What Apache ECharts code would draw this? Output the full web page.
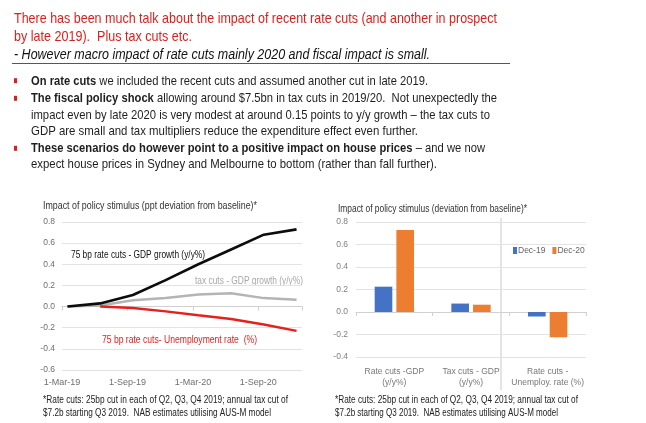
<!DOCTYPE html>
<html>
<head>
<meta charset="utf-8">
<script src="https://cdn.jsdelivr.net/npm/echarts@6/dist/echarts.min.js"></script>
<style>
html,body{margin:0;padding:0;background:#fff;}
#chart{width:646px;height:423px;}
</style>
</head>
<body>
<div id="chart"></div>
<script>
// ---------- DATA ----------
const quarters = ['2019-03','2019-06','2019-09','2019-12','2020-03','2020-06','2020-09','2020-12'];
const gdpRateCuts = [0.00, 0.03, 0.11, 0.25, 0.40, 0.54, 0.68, 0.73];
const gdpTaxCuts = [0.00, 0.01, 0.06, 0.08, 0.115, 0.125, 0.08, 0.065];
const unempRateCuts = [null, 0.00, -0.013, -0.045, -0.082, -0.118, -0.17, -0.23];
const dateTickLabels = ['1-Mar-19','1-Sep-19','1-Mar-20','1-Sep-20'];

const barCategories = ['Rate cuts -GDP\n(y/y%)', 'Tax cuts - GDP\n(y/y%)', 'Rate cuts -\nUnemploy. rate (%)'];
const barSeriesNames = ['Dec-19', 'Dec-20'];
const dec19 = [0.225, 0.075, -0.04];
const dec20 = [0.73, 0.065, -0.225];

// ---------- helpers ----------
const SLIDE_FONT = "'Liberation Sans', Arial, sans-serif";
const CHART_FONT = "'Liberation Sans', Arial, sans-serif";
// months since Mar-19, centred in the month (Excel date axis "between tick marks")
function monthPos(q){ const p=q.split('-').map(Number); return (p[0]-2019)*12 + (p[1]-3) + 0.5; }
function pairs(vals){ return quarters.map((q,i)=>[monthPos(q), vals[i]]); }

const mctx = document.createElement('canvas').getContext('2d');
function measure(str, size, family, weight, style){
  mctx.font = (style||'normal') + ' ' + (weight||'normal') + ' ' + size + 'px ' + family;
  return mctx.measureText(str).width;
}
function fitText(str, x, y, w, size, family, color, opt){
  opt = opt || {};
  const sw = measure(str, size, family, opt.weight, opt.style);
  return {type:'text', x:x, y:y, scaleX: w/sw, silent:true,
    style:{text:str, fontSize:size, fontFamily:family, fontWeight:opt.weight||'normal',
      fontStyle:opt.style||'normal', fill:color, align:'left', verticalAlign:'middle'}};
}
function fitRich(parts, x, y, w, size, family, color){
  let total = 0, txt = '';
  parts.forEach(p=>{
    total += measure(p[0], size, family, p[1]?'bold':'normal');
    txt += p[1] ? '{b|' + p[0] + '}' : p[0];
  });
  return {type:'text', x:x, y:y, scaleX: w/total, silent:true,
    style:{text:txt, fontSize:size, fontFamily:family, fill:color, align:'left', verticalAlign:'middle',
      rich:{b:{fontWeight:'bold', fontSize:size, fontFamily:family, fill:color}}}};
}

const RED = '#dc1f1c';
const TXT = '#1e1e1e';
const graphics = [
  fitText('There has been much talk about the impact of recent rate cuts (and another in prospect', 14, 18.5, 483, 14.5, SLIDE_FONT, RED),
  fitText('by late 2019).  Plus tax cuts etc.', 14, 36.5, 178, 14.5, SLIDE_FONT, RED),
  fitText('- However macro impact of rate cuts mainly 2020 and fiscal impact is small.', 14, 54.5, 416, 14.5, SLIDE_FONT, '#111', {style:'italic'}),
  {type:'line', silent:true, shape:{x1:12,y1:63.5,x2:510,y2:63.5}, style:{stroke:RED, lineWidth:1.2}},
  {type:'rect', silent:true, shape:{x:14,y:78.2,width:3,height:5}, style:{fill:RED}},
  {type:'rect', silent:true, shape:{x:14,y:95.8,width:3,height:5}, style:{fill:RED}},
  {type:'rect', silent:true, shape:{x:14,y:145.8,width:3,height:5}, style:{fill:RED}},
  fitRich([['On rate cuts',1],[' we included the recent cuts and assumed another cut in late 2019.',0]], 31, 81, 397, 13.5, SLIDE_FONT, TXT),
  fitRich([['The fiscal policy shock',1],[' allowing around $7.5bn in tax cuts in 2019/20.  Not unexpectedly the',0]], 31, 98.5, 466, 13.5, SLIDE_FONT, TXT),
  fitText('impact even by late 2020 is very modest at around 0.15 points to y/y growth \u2013 the tax cuts to', 31, 115, 459, 13.5, SLIDE_FONT, TXT),
  fitText('GDP are small and tax multipliers reduce the expenditure effect even further.', 31, 131, 387, 13.5, SLIDE_FONT, TXT),
  fitRich([['These scenarios do however point to a positive impact on house prices',1],[' \u2013 and we now',0]], 31, 148.5, 454, 13.5, SLIDE_FONT, TXT),
  fitText('expect house prices in Sydney and Melbourne to bottom (rather than fall further).', 31, 164.5, 406, 13.5, SLIDE_FONT, TXT),

  // left chart texts
  fitText('Impact of policy stimulus (ppt deviation from baseline)*', 43, 206, 214, 10, CHART_FONT, '#333'),
  fitText('75 bp rate cuts - GDP growth (y/y%)', 71, 255, 134, 10.5, CHART_FONT, '#111'),
  fitText('tax cuts - GDP growth (y/y%)', 195, 281.5, 108, 10.5, CHART_FONT, '#a8a8a8'),
  fitText('75 bp rate cuts- Unemployment rate  (%)', 102, 340.5, 155, 10.5, CHART_FONT, '#e02222'),
  fitText('*Rate cuts: 25bp cut in each of Q2, Q3, Q4 2019; annual tax cut of', 43, 400.5, 245, 10, CHART_FONT, '#222'),
  fitText('$7.2b starting Q3 2019.  NAB estimates utilising AUS-M model', 43, 413, 228, 10, CHART_FONT, '#222'),

  // right chart texts
  fitText('Impact of policy stimulus (deviation from baseline)*', 338, 209, 189, 10, CHART_FONT, '#333'),
  {type:'line', silent:true, shape:{x1:501,y1:218,x2:501,y2:390}, style:{stroke:'#c8c8c8', lineWidth:1}},
  fitText('*Rate cuts: 25bp cut in each of Q2, Q3, Q4 2019; annual tax cut of', 335, 400.5, 243, 10, CHART_FONT, '#222'),
  fitText('$7.2b starting Q3 2019.  NAB estimates utilising AUS-M model', 335, 413, 223, 10, CHART_FONT, '#222')
];

const GRID_COL = '#e3e3e3';
const AXIS_COL = '#d0d0d0';
const LBL_COL = '#6e6e6e';

const option = {
  animation:false,
  backgroundColor:'#fff',
  grid:[
    {left:62, top:222, width:240, height:148, containLabel:false},
    {left:356, top:222, width:230, height:135, containLabel:false}
  ],
  legend:{
    data:barSeriesNames, left:508, top:241, icon:'rect', itemWidth:4, itemHeight:7, itemGap:7,
    textStyle:{fontSize:8.5, fontFamily:CHART_FONT, color:'#666', padding:[0,0,0,-4]}
  },
  xAxis:[
    {type:'value', gridIndex:0, min:0, max:22, interval:6, position:'bottom',
      axisLine:{show:false, onZero:false}, axisTick:{show:false}, splitLine:{show:false},
      axisLabel:{margin:8, fontSize:9, fontFamily:CHART_FONT, color:LBL_COL,
        formatter:v=> (v%6===0 ? (dateTickLabels[v/6]||'') : '')}},
    {type:'value', gridIndex:0, min:0, max:22, interval:6, position:'top',
      axisLine:{show:true, onZero:true, lineStyle:{color:AXIS_COL, width:1}},
      axisTick:{show:true, inside:true, length:4, lineStyle:{color:AXIS_COL}},
      axisLabel:{show:false}, splitLine:{show:false}},
    {type:'category', gridIndex:1, data:barCategories, position:'bottom',
      axisLine:{show:false, onZero:false}, axisTick:{show:false},
      axisLabel:{margin:9, fontSize:8.5, lineHeight:11.3, fontFamily:CHART_FONT, color:'#777', interval:0}},
    {type:'category', gridIndex:1, data:barCategories, position:'top',
      axisLine:{show:true, onZero:true, lineStyle:{color:AXIS_COL, width:1}},
      axisTick:{show:true, inside:true, length:4, interval:0, lineStyle:{color:AXIS_COL}},
      axisLabel:{show:false}}
  ],
  yAxis:[
    {type:'value', gridIndex:0, min:-0.6, max:0.8, interval:0.2,
      axisLine:{show:false}, axisTick:{show:false},
      splitLine:{show:true, lineStyle:{color:GRID_COL, width:1}},
      axisLabel:{margin:7, fontSize:8.5, fontFamily:CHART_FONT, color:LBL_COL, formatter:v=>v.toFixed(1)}},
    {type:'value', gridIndex:1, min:-0.4, max:0.8, interval:0.2,
      axisLine:{show:false}, axisTick:{show:false},
      splitLine:{show:true, lineStyle:{color:GRID_COL, width:1}},
      axisLabel:{margin:8, fontSize:8.5, fontFamily:CHART_FONT, color:'#808080', formatter:v=>v.toFixed(1)}}
  ],
  series:[
    {name:'tax cuts - GDP growth (y/y%)', type:'line', xAxisIndex:0, yAxisIndex:0, data:pairs(gdpTaxCuts),
      showSymbol:false, lineStyle:{color:'#b4b4b4', width:2.5}, z:3},
    {name:'75 bp rate cuts - GDP growth (y/y%)', type:'line', xAxisIndex:0, yAxisIndex:0, data:pairs(gdpRateCuts),
      showSymbol:false, lineStyle:{color:'#0c0c0c', width:2.6}, z:4},
    {name:'75 bp rate cuts- Unemployment rate (%)', type:'line', xAxisIndex:0, yAxisIndex:0, data:pairs(unempRateCuts),
      showSymbol:false, connectNulls:false, lineStyle:{color:'#e5211d', width:2.4}, z:4},
    {name:barSeriesNames[0], type:'bar', xAxisIndex:2, yAxisIndex:1, data:dec19,
      barWidth:'23%', barGap:'23%', itemStyle:{color:'#4472c4'}},
    {name:barSeriesNames[1], type:'bar', xAxisIndex:2, yAxisIndex:1, data:dec20,
      barWidth:'23%', barGap:'23%', itemStyle:{color:'#ed7d31'}}
  ],
  graphic:graphics
};

const chart = echarts.init(document.getElementById('chart'), null, {renderer:'canvas'});
chart.setOption(option);
</script>
</body>
</html>
